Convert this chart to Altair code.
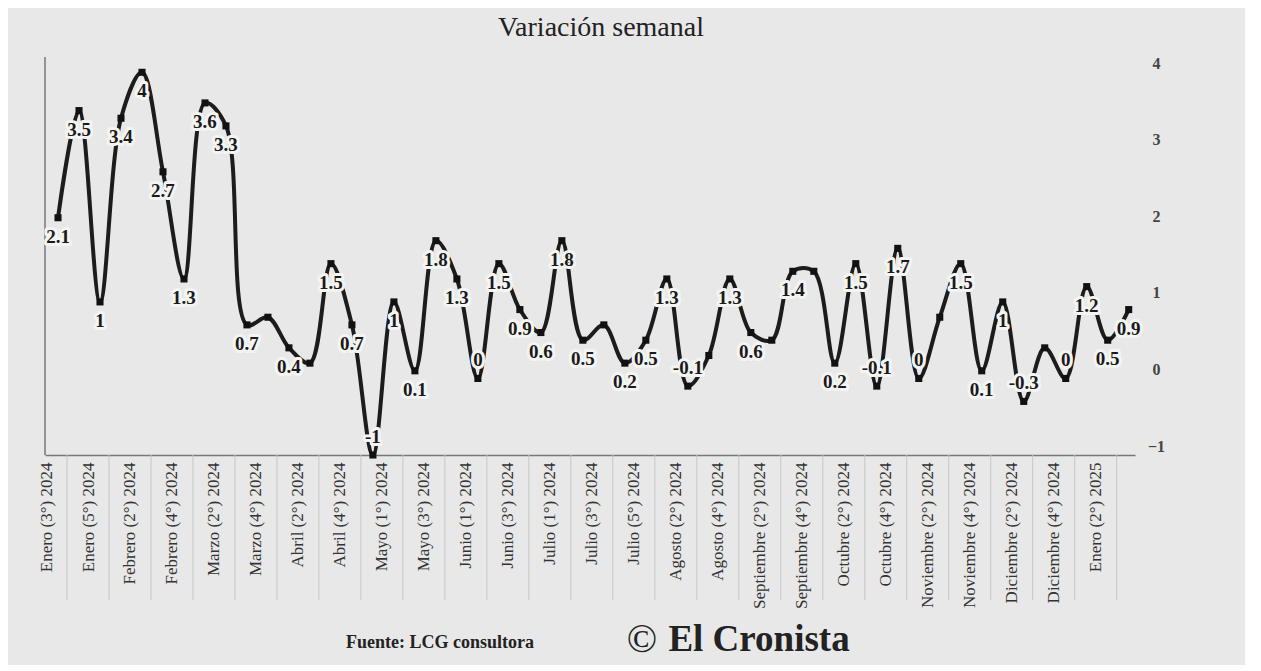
import altair as alt
import pandas as pd

# ---- data -------------------------------------------------------------
etiquetas_eje = [
    "Enero (3°) 2024", "Enero (5°) 2024", "Febrero (2°) 2024", "Febrero (4°) 2024",
    "Marzo (2°) 2024", "Marzo (4°) 2024", "Abril (2°) 2024", "Abril (4°) 2024",
    "Mayo (1°) 2024", "Mayo (3°) 2024", "Junio (1°) 2024", "Junio (3°) 2024",
    "Julio (1°) 2024", "Julio (3°) 2024", "Julio (5°) 2024", "Agosto (2°) 2024",
    "Agosto (4°) 2024", "Septiembre (2°) 2024", "Septiembre (4°) 2024",
    "Octubre (2°) 2024", "Octubre (4°) 2024", "Noviembre (2°) 2024",
    "Noviembre (4°) 2024", "Diciembre (2°) 2024", "Diciembre (4°) 2024",
    "Enero (2°) 2025",
]

valores = [
    2.1, 3.5, 1, 3.4, 4, 2.7, 1.3, 3.6, 3.3, 0.7,
    0.8, 0.4, 0.2, 1.5, 0.7, -1, 1, 0.1, 1.8, 1.3,
    0, 1.5, 0.9, 0.6, 1.8, 0.5, 0.7, 0.2, 0.5, 1.3,
    -0.1, 0.3, 1.3, 0.6, 0.5, 1.4, 1.4, 0.2, 1.5, -0.1,
    1.7, 0, 0.8, 1.5, 0.1, 1, -0.3, 0.4, 0, 1.2,
    0.5, 0.9,
]

con_etiqueta = [
    1, 1, 1, 1, 1, 1, 1, 1, 1, 1,
    0, 1, 0, 1, 1, 1, 1, 1, 1, 1,
    1, 1, 1, 1, 1, 1, 0, 1, 1, 1,
    1, 0, 1, 1, 0, 1, 0, 1, 1, 1,
    1, 1, 0, 1, 1, 1, 1, 0, 1, 1,
    1, 1,
]

titulo = "Variación semanal"
fuente = "Fuente: LCG consultora"
simbolo = "©"
marca = "El Cronista"

# ---- table ------------------------------------------------------------
df = pd.DataFrame({
    "semana": list(range(len(valores))),
    "valor": valores,
    "mostrar": con_etiqueta,
    "texto": [f"{v:g}" for v in valores],
})

W, H = 1090, 398
SERIF = "Liberation Serif"

label_expr = "[" + ",".join("'" + s + "'" for s in etiquetas_eje) + "][round(datum.value/2)]"

xs = alt.Scale(domain=[-0.62, 51.3], nice=False, zero=False)
ys = alt.Scale(domain=[-1, 4.2], nice=False, zero=False)

x = alt.X(
    "semana:Q", scale=xs,
    axis=alt.Axis(
        values=list(range(0, len(valores), 2)), labelExpr=label_expr,
        labelAngle=270, labelAlign="right", labelBaseline="middle",
        labelPadding=7, labelOffset=-12, labelFont=SERIF, labelFontSize=17,
        labelColor="#333", ticks=False, grid=False, domainColor="#777",
        domainWidth=1.5, title=None, labelOverlap=False, labelBound=False,
        labelFlush=False,
    ),
)
y = alt.Y(
    "valor:Q", scale=ys,
    axis=alt.Axis(
        orient="right", values=[-1, 0, 1, 2, 3, 4], labelAlign="center",
        labelPadding=21, labelOffset=-9, domain=False, ticks=False, grid=False,
        labelFont=SERIF, labelFontSize=16, labelFontWeight="bold",
        labelColor="#444", title=None,
    ),
)

base = alt.Chart(df)

grid_rules = base.transform_filter("datum.semana % 2 == 1").mark_rule(
    color="#c6c6c6", strokeWidth=1, xOffset=-12
).encode(x=x, y=alt.value(H), y2=alt.value(H + 145))

one = pd.DataFrame({"a": [0]})
left_frame = alt.Chart(one).mark_rule(color="#777", strokeWidth=1.5).encode(
    x=alt.value(0), y=alt.value(0), y2=alt.value(H)
)

line = base.mark_line(interpolate="catmull-rom", color="#1c1c1c", strokeWidth=4).encode(x=x, y=y)
pts = base.mark_point(shape="square", filled=True, size=50, color="#111", opacity=1).encode(x=x, y=y)

txt_style = dict(font=SERIF, fontSize=19, fontWeight="bold")

def labels(cond, dy):
    sub = base.transform_filter(cond)
    halo = sub.mark_text(dy=dy, stroke="#f4f4f4", strokeWidth=6, color="#f4f4f4",
                         strokeJoin="round", **txt_style).encode(x=x, y=y, text="texto:N")
    fg = sub.mark_text(dy=dy, color="#1a1a1a", **txt_style).encode(x=x, y=y, text="texto:N")
    return [halo, fg]

pos_labels = labels("datum.mostrar == 1 && datum.valor > 0", 19)
neg_labels = labels("datum.mostrar == 1 && datum.valor <= 0", -18)

title_t = alt.Chart(pd.DataFrame({"t": [titulo]})).mark_text(
    font=SERIF, fontSize=28, color="#222"
).encode(x=alt.value(556), y=alt.value(-29), text="t:N")

fuente_t = alt.Chart(pd.DataFrame({"t": [fuente]})).mark_text(
    font=SERIF, fontSize=18, fontWeight="bold", color="#222"
).encode(x=alt.value(395), y=alt.value(586), text="t:N")

simbolo_t = alt.Chart(pd.DataFrame({"t": [simbolo]})).mark_text(
    font=SERIF, fontSize=40, color="#222"
).encode(x=alt.value(597), y=alt.value(583), text="t:N")

marca_t = alt.Chart(pd.DataFrame({"t": [marca]})).mark_text(
    font=SERIF, fontSize=37, fontWeight="bold", color="#222"
).encode(x=alt.value(714), y=alt.value(583), text="t:N")

chart = alt.layer(
    grid_rules, left_frame, line, pts, *pos_labels, *neg_labels,
    title_t, fuente_t, simbolo_t, marca_t,
).properties(
    width=W, height=H,
    padding={"left": 37, "top": 49, "right": 110, "bottom": 210},
    autosize="none",
    background="#e8e8e8",
).configure_view(stroke=None)

chart.save("out.html", embed_options={"renderer": "svg", "actions": False})
